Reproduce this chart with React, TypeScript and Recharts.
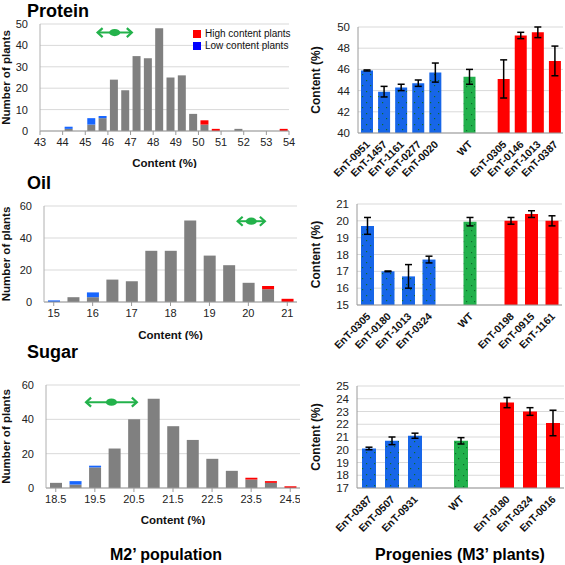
import React from 'react';
import { BarChart, Bar, XAxis, YAxis, CartesianGrid, ErrorBar, Cell, ReferenceLine } from 'recharts';

const FONT = '"Liberation Sans", Arial, Helvetica, sans-serif';

// ---------- M2' population histograms ----------
const proteinBins = [44.25, 45.25, 45.75, 46.25, 46.75, 47.25, 47.75, 48.25, 48.75, 49.25, 49.75, 50.25, 50.75, 51.75, 53.75];
const proteinOther = [1, 3, 6, 24, 19, 35, 34, 48, 25, 26, 8, 3, 0, 1, 0];
const proteinLow = [1, 3, 1, 0, 0, 0, 0, 0, 0, 0, 0, 0, 0, 0, 0];
const proteinHigh = [0, 0, 0, 0, 0, 0, 0, 0, 0, 0, 0, 2, 1, 0, 1];
const proteinTicks = [43, 44, 45, 46, 47, 48, 49, 50, 51, 52, 53, 54];
const proteinWtRange = [45.5, 47.1];
const proteinArrowLevel = 46;

const oilBins = [15, 15.5, 16, 16.5, 17, 17.5, 18, 18.5, 19, 19.5, 20, 20.5, 21];
const oilOther = [0, 3, 3, 14, 13, 32, 32, 51, 29, 23, 12, 8, 0];
const oilLow = [1, 0, 3, 0, 0, 0, 0, 0, 0, 0, 0, 0, 0];
const oilHigh = [0, 0, 0, 0, 0, 0, 0, 0, 0, 0, 0, 2, 2];
const oilTicks = [15, 16, 17, 18, 19, 20, 21];
const oilWtRange = [19.7, 20.45];
const oilArrowLevel = 50.5;

const sugarBins = [18.5, 19, 19.5, 20, 20.5, 21, 21.5, 22, 22.5, 23, 23.5, 24, 24.5];
const sugarOther = [3, 2, 12, 23, 40, 52, 36, 28, 17, 10, 5, 3, 0];
const sugarLow = [0, 2, 1, 0, 0, 0, 0, 0, 0, 0, 0, 0, 0];
const sugarHigh = [0, 0, 0, 0, 0, 0, 0, 0, 0, 0, 1, 1, 1];
const sugarTicks = [18.5, 19.5, 20.5, 21.5, 22.5, 23.5, 24.5];
const sugarWtRange = [19.25, 20.6];
const sugarArrowLevel = 50;

const legendItems = ['High content plants', 'Low content plants'];
const legendColors = ['#ff0000', '#0000ff'];

// ---------- Progenies (M3' plants) ----------
const proteinLines = ['EnT-0951', 'EnT-1457', 'EnT-1161', 'EnT-0277', 'EnT-0020', '', 'WT', '', 'EnT-0305', 'EnT-0146', 'EnT-1013', 'EnT-0387'];
const proteinMeans = [45.9, 43.9, 44.3, 44.7, 45.7, null, 45.3, null, 45.1, 49.2, 49.5, 46.8];
const proteinErr = [0.05, 0.5, 0.3, 0.3, 0.9, null, 0.7, null, 1.8, 0.3, 0.5, 1.4];
const proteinGroups = ['low', 'low', 'low', 'low', 'low', '', 'wt', '', 'high', 'high', 'high', 'high'];
const proteinYTicks = [40, 42, 44, 46, 48, 50];

const oilLines = ['EnT-0305', 'EnT-0180', 'EnT-1013', 'EnT-0324', '', 'WT', '', 'EnT-0198', 'EnT-0915', 'EnT-1161'];
const oilMeans = [19.7, 17.0, 16.7, 17.7, null, 19.95, null, 20.0, 20.4, 20.0];
const oilErr = [0.5, 0.02, 0.7, 0.2, null, 0.25, null, 0.2, 0.2, 0.3];
const oilGroups = ['low', 'low', 'low', 'low', '', 'wt', '', 'high', 'high', 'high'];
const oilYTicks = [15, 16, 17, 18, 19, 20, 21];

const sugarLines = ['EnT-0387', 'EnT-0507', 'EnT-0931', '', 'WT', '', 'EnT-0180', 'EnT-0324', 'EnT-0016'];
const sugarMeans = [20.1, 20.7, 21.1, null, 20.7, null, 23.7, 23.0, 22.1];
const sugarErr = [0.1, 0.3, 0.2, null, 0.25, null, 0.4, 0.3, 1.0];
const sugarGroups = ['low', 'low', 'low', '', 'wt', '', 'high', 'high', 'high'];
const sugarYTicks = [17, 18, 19, 20, 21, 22, 23, 24, 25];

const GREEN = '#23b24b';
const groupFill: Record<string, string> = {
  low: 'url(#blueDots)',
  wt: 'url(#greenDots)',
  high: '#ff0000',
  '': 'none',
};

const WtArrow = (props: any) => {
  const { x1, y1, x2 } = props;
  if (x1 == null || y1 == null || x2 == null) return <g />;
  const cx = (x1 + x2) / 2;
  const h = 4.5;
  return (
    <g>
      <line x1={x1 + 1} y1={y1} x2={x2 - 1} y2={y1} stroke={GREEN} strokeWidth={2} />
      <polyline points={`${x1 + 6},${y1 - h} ${x1 + 1},${y1} ${x1 + 6},${y1 + h}`} fill="none" stroke={GREEN} strokeWidth={2.2} />
      <polyline points={`${x2 - 6},${y1 - h} ${x2 - 1},${y1} ${x2 - 6},${y1 + h}`} fill="none" stroke={GREEN} strokeWidth={2.2} />
      <ellipse cx={cx} cy={y1} rx={5.5} ry={3.6} fill={GREEN} />
    </g>
  );
};

type HistProps = {
  bins: number[];
  other: number[];
  low: number[];
  high: number[];
  ticks: number[];
  domain: [number, number];
  yDomain: [number, number];
  yTicks: number[];
  barSize: number;
  wt: number[];
  arrowY: number;
  width: number;
  height: number;
  margin: any;
  yAxisWidth: number;
  xAxisHeight: number;
  decimals: number;
};

const Histogram = (p: HistProps) => {
  const data = p.bins.map((b, i) => ({ x: b, other: p.other[i], low: p.low[i], high: p.high[i] }));
  return (
    <BarChart width={p.width} height={p.height} data={data} margin={p.margin}>
      <CartesianGrid vertical={false} stroke="#d9d9d9" />
      <XAxis
        dataKey="x"
        type="number"
        domain={p.domain}
        ticks={p.ticks}
        interval={0}
        height={p.xAxisHeight}
        allowDecimals
        tickFormatter={(v: number) => v.toFixed(p.decimals)}
        tick={{ fontSize: 11, fill: '#222', fontFamily: FONT }}
        axisLine={{ stroke: '#9a9a9a' }}
        tickLine={{ stroke: '#9a9a9a' }}
        tickSize={4}
        tickMargin={3}
        label={{ value: 'Content (%)', position: 'insideBottom', offset: 1, style: { fontSize: 11.5, fontWeight: 'bold', fill: '#111', fontFamily: FONT } }}
      />
      <YAxis
        domain={p.yDomain}
        ticks={p.yTicks}
        interval={0}
        width={p.yAxisWidth}
        tick={{ fontSize: 11, fill: '#222', fontFamily: FONT }}
        axisLine={{ stroke: '#b0b0b0' }}
        tickLine={false}
        tickMargin={6}
        label={{ value: 'Number of plants', angle: -90, position: 'insideLeft', offset: 6, style: { textAnchor: 'middle', fontSize: 11.5, fontWeight: 'bold', fill: '#111', fontFamily: FONT } }}
      />
      <Bar dataKey="other" stackId="s" fill="#808080" barSize={p.barSize} isAnimationActive={false} />
      <Bar dataKey="low" stackId="s" fill="#1766ff" barSize={p.barSize} isAnimationActive={false} />
      <Bar dataKey="high" stackId="s" fill="#ff0000" barSize={p.barSize} isAnimationActive={false} />
      <ReferenceLine
        segment={[{ x: p.wt[0], y: p.arrowY }, { x: p.wt[1], y: p.arrowY }]}
        ifOverflow="visible"
        shape={WtArrow}
      />
    </BarChart>
  );
};

const RotTick = (props: any) => {
  const { x, y, payload } = props;
  if (!payload || !payload.value) return <g />;
  return (
    <text
      x={x + 4}
      y={y + 4}
      transform={`rotate(-45 ${x + 4} ${y + 4})`}
      textAnchor="end"
      fontSize={10.5}
      fontWeight="bold"
      fill="#111"
      fontFamily={FONT}
    >
      {payload.value}
    </text>
  );
};

type ProgProps = {
  lines: string[];
  means: (number | null)[];
  errs: (number | null)[];
  groups: string[];
  domain: [number, number];
  ticks: number[];
  barSize: number;
  width: number;
  height: number;
  margin: any;
  yAxisWidth: number;
  xAxisHeight: number;
};

const Progeny = (p: ProgProps) => {
  const data = p.lines.map((l, i) => ({ line: l, mean: p.means[i], err: p.errs[i] ?? 0 }));
  return (
    <BarChart width={p.width} height={p.height} data={data} margin={p.margin}>
      <CartesianGrid vertical={false} stroke="#d9d9d9" />
      <XAxis
        dataKey="line"
        interval={0}
        height={p.xAxisHeight}
        tick={<RotTick />}
        axisLine={{ stroke: '#9a9a9a' }}
        tickLine={false}
      />
      <YAxis
        domain={p.domain}
        ticks={p.ticks}
        interval={0}
        width={p.yAxisWidth}
        allowDataOverflow
        tick={{ fontSize: 11.5, fill: '#222', fontFamily: FONT }}
        axisLine={{ stroke: '#9a9a9a' }}
        tickLine={false}
        label={{ value: 'Content (%)', angle: -90, position: 'insideLeft', offset: 16, style: { textAnchor: 'middle', fontSize: 12, fontWeight: 'bold', fill: '#111', fontFamily: FONT } }}
      />
      <Bar dataKey="mean" barSize={p.barSize} isAnimationActive={false}>
        {data.map((d, i) => (
          <Cell key={i} fill={groupFill[p.groups[i]]} />
        ))}
        <ErrorBar dataKey="err" width={3.5} strokeWidth={1.5} stroke="#000" direction="y" />
      </Bar>
    </BarChart>
  );
};

const titleStyle: React.CSSProperties = {
  position: 'absolute',
  fontFamily: FONT,
  fontWeight: 'bold',
  fontSize: 18,
  lineHeight: '18px',
  color: '#000',
  margin: 0,
};

const box = (left: number, top: number): React.CSSProperties => ({ position: 'absolute', left, top });

export default function App() {
  return (
    <div style={{ position: 'absolute', left: 0, top: 0, width: 565, height: 565, background: '#fff', overflow: 'hidden', fontFamily: FONT }}>
      <svg width={0} height={0} style={{ position: 'absolute' }}>
        <defs>
          <pattern id="blueDots" width="8" height="11" patternUnits="userSpaceOnUse">
            <rect width="8" height="11" fill="#1766e8" />
            <rect x="2" y="3" width="1.2" height="1.2" fill="#0d6a2c" />
            <rect x="6" y="8" width="1.2" height="1.2" fill="#0d6a2c" />
          </pattern>
          <pattern id="greenDots" width="8" height="11" patternUnits="userSpaceOnUse">
            <rect width="8" height="11" fill="#22b14c" />
            <rect x="3" y="4" width="1.2" height="1.2" fill="#0b6a2a" />
            <rect x="6" y="9" width="1.2" height="1.2" fill="#0b6a2a" />
          </pattern>
        </defs>
      </svg>

      <div style={{ ...titleStyle, left: 27, top: 2 }}>Protein</div>
      <div style={{ ...titleStyle, left: 27, top: 174 }}>Oil</div>
      <div style={{ ...titleStyle, left: 27, top: 343 }}>Sugar</div>

      <div style={box(0, 0)}>
        <Histogram
          bins={proteinBins} other={proteinOther} low={proteinLow} high={proteinHigh}
          ticks={proteinTicks} domain={[43, 54]} yDomain={[0, 50]} yTicks={[0, 10, 20, 30, 40, 50]}
          barSize={8} wt={proteinWtRange} arrowY={proteinArrowLevel}
          width={300} height={168} margin={{ top: 24, right: 11, bottom: 0, left: 0 }}
          yAxisWidth={40} xAxisHeight={37} decimals={0}
        />
      </div>
      <div style={{ position: 'absolute', left: 193, top: 28, fontFamily: FONT, fontSize: 10, color: '#111', lineHeight: '12px' }}>
        {legendItems.map((t, i) => (
          <div key={t} style={{ display: 'flex', alignItems: 'center' }}>
            <span style={{ display: 'inline-block', width: 8, height: 8, background: legendColors[i], marginRight: 4 }} />
            {t}
          </div>
        ))}
      </div>

      <div style={box(0, 165)}>
        <Histogram
          bins={oilBins} other={oilOther} low={oilLow} high={oilHigh}
          ticks={oilTicks} domain={[14.75, 21.25]} yDomain={[0, 60]} yTicks={[0, 20, 40, 60]}
          barSize={12} wt={oilWtRange} arrowY={oilArrowLevel}
          width={300} height={175} margin={{ top: 41, right: 3, bottom: 0, left: 0 }}
          yAxisWidth={44} xAxisHeight={38} decimals={0}
        />
      </div>

      <div style={box(0, 350)}>
        <Histogram
          bins={sugarBins} other={sugarOther} low={sugarLow} high={sugarHigh}
          ticks={sugarTicks} domain={[18.25, 24.75]} yDomain={[0, 60]} yTicks={[0, 20, 40, 60]}
          barSize={12} wt={sugarWtRange} arrowY={sugarArrowLevel}
          width={300} height={175} margin={{ top: 35, right: 0, bottom: 0, left: 0 }}
          yAxisWidth={46} xAxisHeight={37} decimals={1}
        />
      </div>

      <div style={box(300, 0)}>
        <Progeny
          lines={proteinLines} means={proteinMeans} errs={proteinErr} groups={proteinGroups}
          domain={[40, 50]} ticks={proteinYTicks} barSize={12}
          width={265} height={200} margin={{ top: 27, right: 2, bottom: 0, left: 0 }}
          yAxisWidth={58} xAxisHeight={67}
        />
      </div>
      <div style={box(300, 160)}>
        <Progeny
          lines={oilLines} means={oilMeans} errs={oilErr} groups={oilGroups}
          domain={[15, 21]} ticks={oilYTicks} barSize={13}
          width={265} height={205} margin={{ top: 44, right: 3, bottom: 0, left: 0 }}
          yAxisWidth={57} xAxisHeight={60}
        />
      </div>
      <div style={box(300, 350)}>
        <Progeny
          lines={sugarLines} means={sugarMeans} errs={sugarErr} groups={sugarGroups}
          domain={[17, 25]} ticks={sugarYTicks} barSize={14}
          width={265} height={198} margin={{ top: 36, right: 1, bottom: 0, left: 0 }}
          yAxisWidth={57} xAxisHeight={60}
        />
      </div>

      <div style={{ position: 'absolute', left: 66, width: 200, top: 546, textAlign: 'center', fontFamily: FONT, fontWeight: 'bold', fontSize: 16, lineHeight: '18px' }}>
        M2’ population
      </div>
      <div style={{ position: 'absolute', left: 360, width: 200, top: 546, textAlign: 'center', fontFamily: FONT, fontWeight: 'bold', fontSize: 16, lineHeight: '18px' }}>
        Progenies (M3’ plants)
      </div>
    </div>
  );
}
